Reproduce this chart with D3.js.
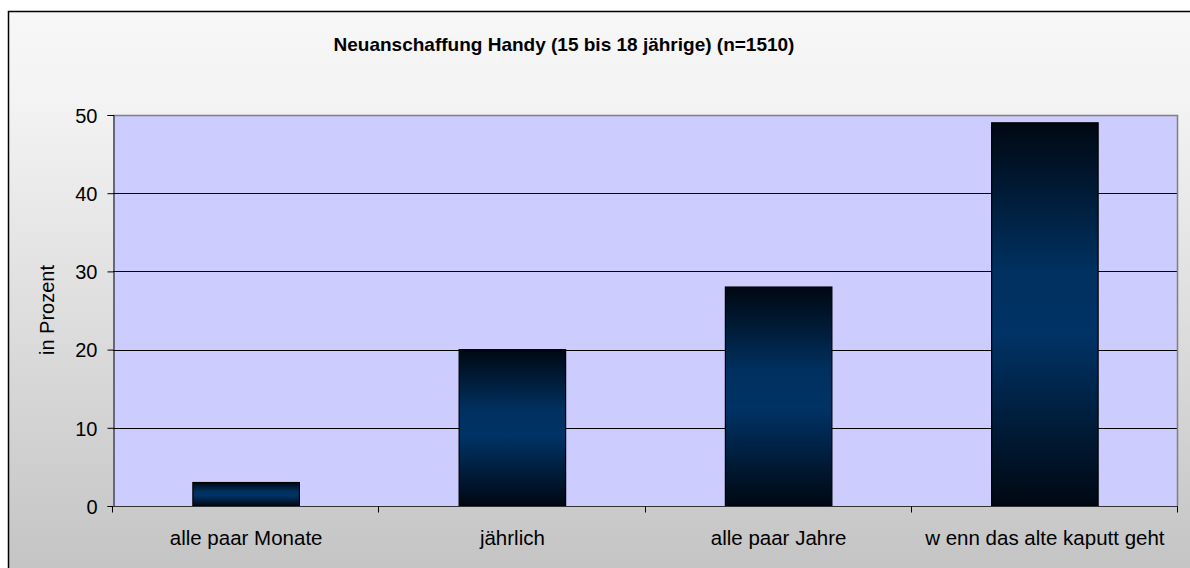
<!DOCTYPE html>
<html><head><meta charset="utf-8">
<script src="https://cdn.jsdelivr.net/npm/d3@7"></script>
<style>body{margin:0;background:#fff;}svg{display:block;}</style>
</head><body>
<svg id="c" width="1190" height="568"></svg>
<script>
const categories = ["alle paar Monate", "jährlich", "alle paar Jahre", "w enn das alte kaputt geht"];
const values = [3, 20, 28, 49];
const yTicks = [0, 10, 20, 30, 40, 50];
const title = "Neuanschaffung Handy (15 bis 18 jährige) (n=1510)";
const yLabel = "in Prozent";

const svg = d3.select("#c");
const defs = svg.append("defs");
const bg = defs.append("linearGradient").attr("id","bg").attr("x1",0).attr("y1",0).attr("x2",0).attr("y2",1);
bg.append("stop").attr("offset","0%").attr("stop-color","#f7f7f7");
bg.append("stop").attr("offset","15%").attr("stop-color","#f3f3f3");
bg.append("stop").attr("offset","100%").attr("stop-color","#c0c0c0");
const bar = defs.append("linearGradient").attr("id","bar").attr("x1",0).attr("y1",0).attr("x2",0).attr("y2",1);
bar.append("stop").attr("offset","0%").attr("stop-color","#000812");
bar.append("stop").attr("offset","38%").attr("stop-color","#00305f");
bar.append("stop").attr("offset","55%").attr("stop-color","#003366");
bar.append("stop").attr("offset","100%").attr("stop-color","#000812");

svg.append("rect").attr("x",8.5).attr("y",11.5).attr("width",1200).attr("height",600)
  .attr("fill","url(#bg)").attr("stroke","#000").attr("stroke-width",1.5);

const L = 113, R = 1178, T = 115, B = 506;
const x = d3.scaleBand().domain(categories).range([L, R]).paddingInner(0).paddingOuter(0);
const y = d3.scaleLinear().domain([0, 50]).range([B, T]);
const FONT = "Liberation Sans, Arial, sans-serif";

svg.append("rect").attr("x",L).attr("y",T).attr("width",R-L).attr("height",B-T).attr("fill","#ccccff");

// gridlines
svg.append("g").selectAll("line").data(yTicks.filter(d=>d>0&&d<50)).join("line")
  .attr("x1",L).attr("x2",R).attr("y1",d=>Math.round(y(d))+0.5).attr("y2",d=>Math.round(y(d))+0.5)
  .attr("stroke","#000").attr("stroke-width",1);
// top & right border gray
svg.append("path").attr("d",`M${L},${T+0.5}H${R-0.5}V${B}`).attr("fill","none").attr("stroke","#808080").attr("stroke-width",1.5);

// bars
const bw = x.bandwidth()*0.4;
svg.append("g").selectAll("rect").data(values).join("rect")
  .attr("x",(d,i)=>x(categories[i])+x.bandwidth()/2-bw/2)
  .attr("y",d=>y(d))
  .attr("width",bw)
  .attr("height",d=>B-y(d))
  .attr("fill","url(#bar)")
  .attr("stroke","#000").attr("stroke-width",1.2);

// y axis
const yAxis = d3.axisLeft(y).tickValues(yTicks).tickSize(6).tickPadding(10);
const gy = svg.append("g").attr("transform",`translate(${L+0.5},0)`).call(yAxis);
gy.select(".domain").attr("stroke","#000");
gy.selectAll(".tick line").attr("stroke","#000");
gy.selectAll("text").attr("font-family",FONT).attr("font-size","20px").attr("fill","#000").attr("dy","0.36em");

// x axis
const gx = svg.append("g").attr("transform",`translate(0,${B+0.5})`);
gx.append("line").attr("x1",L).attr("x2",R).attr("stroke","#333").attr("stroke-width",1.2);
const bounds = categories.map(c=>x(c)).concat([R]);
gx.selectAll("line.t").data(bounds).join("line").attr("class","t")
  .attr("x1",d=>Math.round(d)-0.5).attr("x2",d=>Math.round(d)-0.5).attr("y1",0).attr("y2",6).attr("stroke","#000");
gx.selectAll("text").data(categories).join("text")
  .attr("x",d=>x(d)+x.bandwidth()/2).attr("y",38)
  .attr("text-anchor","middle")
  .attr("font-family",FONT).attr("font-size","20.5px").attr("fill","#000")
  .text(d=>d);

svg.append("text").attr("x",564).attr("y",51).attr("text-anchor","middle")
  .attr("font-family",FONT).attr("font-weight","bold").attr("font-size","19px")
  .attr("fill","#000").text(title);

svg.append("text").attr("transform","translate(54,310) rotate(-90)").attr("text-anchor","middle")
  .attr("font-family",FONT).attr("font-size","20px").attr("fill","#000")
  .text(yLabel);
</script>
</body></html>
